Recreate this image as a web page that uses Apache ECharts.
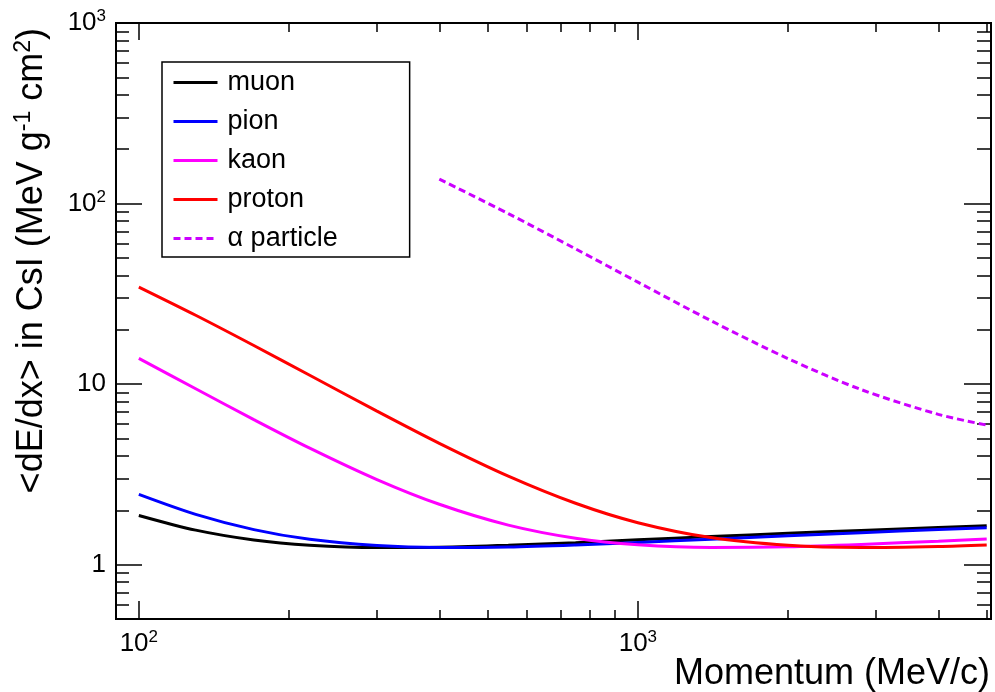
<!DOCTYPE html>
<html>
<head>
<meta charset="utf-8">
<script src="https://cdn.jsdelivr.net/npm/echarts@6/dist/echarts.min.js"></script>
<style>
html, body { margin: 0; padding: 0; background: #fff; }
#chart { width: 995px; height: 692px; }
</style>
</head>
<body>
<div id="chart"></div>
<script>
// momentum points (MeV/c) and <dE/dx> in CsI (MeV g^-1 cm^2)
var momentum = [100, 130, 170, 220, 300, 400, 550, 750, 1000, 1400, 2000, 2800, 4000, 5000];
var muon = [1.873, 1.553, 1.370, 1.282, 1.244, 1.249, 1.280, 1.324, 1.372, 1.430, 1.492, 1.548, 1.606, 1.640];
var pion = [2.450, 1.899, 1.563, 1.381, 1.276, 1.244, 1.252, 1.285, 1.327, 1.383, 1.445, 1.504, 1.565, 1.601];
var kaon = [13.89, 9.42, 6.36, 4.42, 2.96, 2.16, 1.656, 1.401, 1.290, 1.246, 1.256, 1.294, 1.349, 1.388];
var proton = [34.47, 24.06, 16.36, 11.19, 7.085, 4.700, 3.093, 2.188, 1.708, 1.412, 1.279, 1.244, 1.261, 1.286];
var alphaMomentum = [400, 550, 750, 1000, 1400, 2000, 2800, 4000, 5000];
var alpha = [136.6, 88.0, 56.1, 36.7, 22.47, 13.83, 9.33, 6.80, 5.93];

var seriesNames = ['muon', 'pion', 'kaon', 'proton', 'α particle'];
var seriesColors = ['#000000', '#0000ff', '#ff00ff', '#ff0000', '#cc00ff'];

var xMajorTicks = [100, 1000];
var xTickLabels = ['10{s|2}', '10{s|3}'];
var xMinorTicks = [90, 200, 300, 400, 500, 600, 700, 800, 900, 2000, 3000, 4000, 5000];
var yMajorTicks = [1, 10, 100, 1000];
var yTickLabels = ['1', '10', '10{s|2}', '10{s|3}'];
var yMinorTicks = [0.5, 0.6, 0.7, 0.8, 0.9, 2, 3, 4, 5, 6, 7, 8, 9,
    20, 30, 40, 50, 60, 70, 80, 90, 200, 300, 400, 500, 600, 700, 800, 900];

var FONT = '"Liberation Sans", Arial, Helvetica, sans-serif';

function pairs(xs, ys) {
    var out = [];
    for (var i = 0; i < xs.length; i++) {
        out.push([xs[i], ys[i]]);
    }
    return out;
}

function tickLabel(ticks, labels) {
    return function (v) {
        for (var i = 0; i < ticks.length; i++) {
            if (Math.abs(ticks[i] - v) / ticks[i] < 1e-6) return labels[i];
        }
        return '';
    };
}

var labelRich = {
    s: { fontSize: 17, fontFamily: FONT, color: '#000', lineHeight: 17, verticalAlign: 'top' }
};

function makeAxis(dim, position, ticks, len, labels) {
    var isX = dim === 'x';
    var axis = {
        type: 'log',
        position: position,
        min: isX ? 90 : 0.5,
        max: isX ? 5100 : 1000,
        logBase: 10,
        axisLine: { show: true, onZero: false, lineStyle: { color: '#000', width: 2 } },
        axisTick: { show: true, inside: true, length: len, customValues: ticks,
            lineStyle: { color: '#000', width: 1.5 } },
        axisLabel: { show: false },
        splitLine: { show: false },
        minorTick: { show: false }
    };
    if (labels) {
        axis.axisLabel = {
            show: true,
            customValues: ticks,
            formatter: tickLabel(ticks, labels),
            fontSize: 26,
            fontFamily: FONT,
            color: '#000',
            lineHeight: 30,
            margin: isX ? 10 : 10,
            rich: labelRich
        };
    }
    return axis;
}

var series = [];
var lines = [muon, pion, kaon, proton];
for (var k = 0; k < lines.length; k++) {
    series.push({
        name: seriesNames[k],
        type: 'line',
        data: pairs(momentum, lines[k]),
        symbol: 'none',
        smooth: 0.3,
        lineStyle: { color: seriesColors[k], width: 3 },
        itemStyle: { color: seriesColors[k] },
        z: 2 + k
    });
}
series.push({
    name: seriesNames[4],
    type: 'line',
    data: pairs(alphaMomentum, alpha),
    symbol: 'none',
    smooth: 0.3,
    lineStyle: { color: seriesColors[4], width: 3, type: [7, 4] },
    itemStyle: { color: seriesColors[4] },
    z: 7
});

var chart = echarts.init(document.getElementById('chart'), null, { renderer: 'canvas' });
var option = {
    animation: false,
    backgroundColor: '#fff',
    grid: { left: 116, right: 4, top: 23, bottom: 73, containLabel: false, outerBoundsMode: 'none' },
    xAxis: [
        makeAxis('x', 'bottom', xMajorTicks, 18, xTickLabels),
        makeAxis('x', 'bottom', xMinorTicks, 9, null),
        makeAxis('x', 'top', xMajorTicks, 17, null),
        makeAxis('x', 'top', xMinorTicks, 9, null)
    ],
    yAxis: [
        makeAxis('y', 'left', yMajorTicks, 26, yTickLabels),
        makeAxis('y', 'left', yMinorTicks, 13, null),
        makeAxis('y', 'right', yMajorTicks, 27, null),
        makeAxis('y', 'right', yMinorTicks, 14, null)
    ],
    legend: {
        orient: 'vertical',
        left: 162,
        top: 62,
        padding: [7, 72, 5, 10],
        itemGap: 12,
        itemWidth: 44,
        itemHeight: 14,
        backgroundColor: '#fff',
        borderColor: '#000',
        borderWidth: 1.5,
        borderRadius: 0,
        selectedMode: false,
        itemStyle: { color: 'rgba(0,0,0,0)', borderColor: 'rgba(0,0,0,0)', borderWidth: 0, opacity: 0 },
        lineStyle: { width: 3 },
        textStyle: { fontSize: 27, fontFamily: FONT, color: '#000', lineHeight: 27, padding: [0, 0, 0, 5] },
        data: seriesNames
    },
    graphic: [
        {
            type: 'text',
            x: 32,
            y: 28,
            rotation: Math.PI / 2,
            style: {
                text: '<dE/dx> in CsI (MeV g{s|-1} cm{s|2})',
                fontSize: 36,
                fontFamily: FONT,
                fill: '#000',
                align: 'right',
                verticalAlign: 'middle',
                lineHeight: 40,
                rich: {
                    s: { fontSize: 23, fontFamily: FONT, fill: '#000', lineHeight: 23, verticalAlign: 'top' }
                }
            }
        },
        {
            type: 'text',
            x: 990,
            y: 674,
            style: {
                text: 'Momentum (MeV/c)',
                fontSize: 36,
                fontFamily: FONT,
                fill: '#000',
                align: 'right',
                verticalAlign: 'middle'
            }
        }
    ],
    series: series
};
chart.setOption(option);
</script>
</body>
</html>
